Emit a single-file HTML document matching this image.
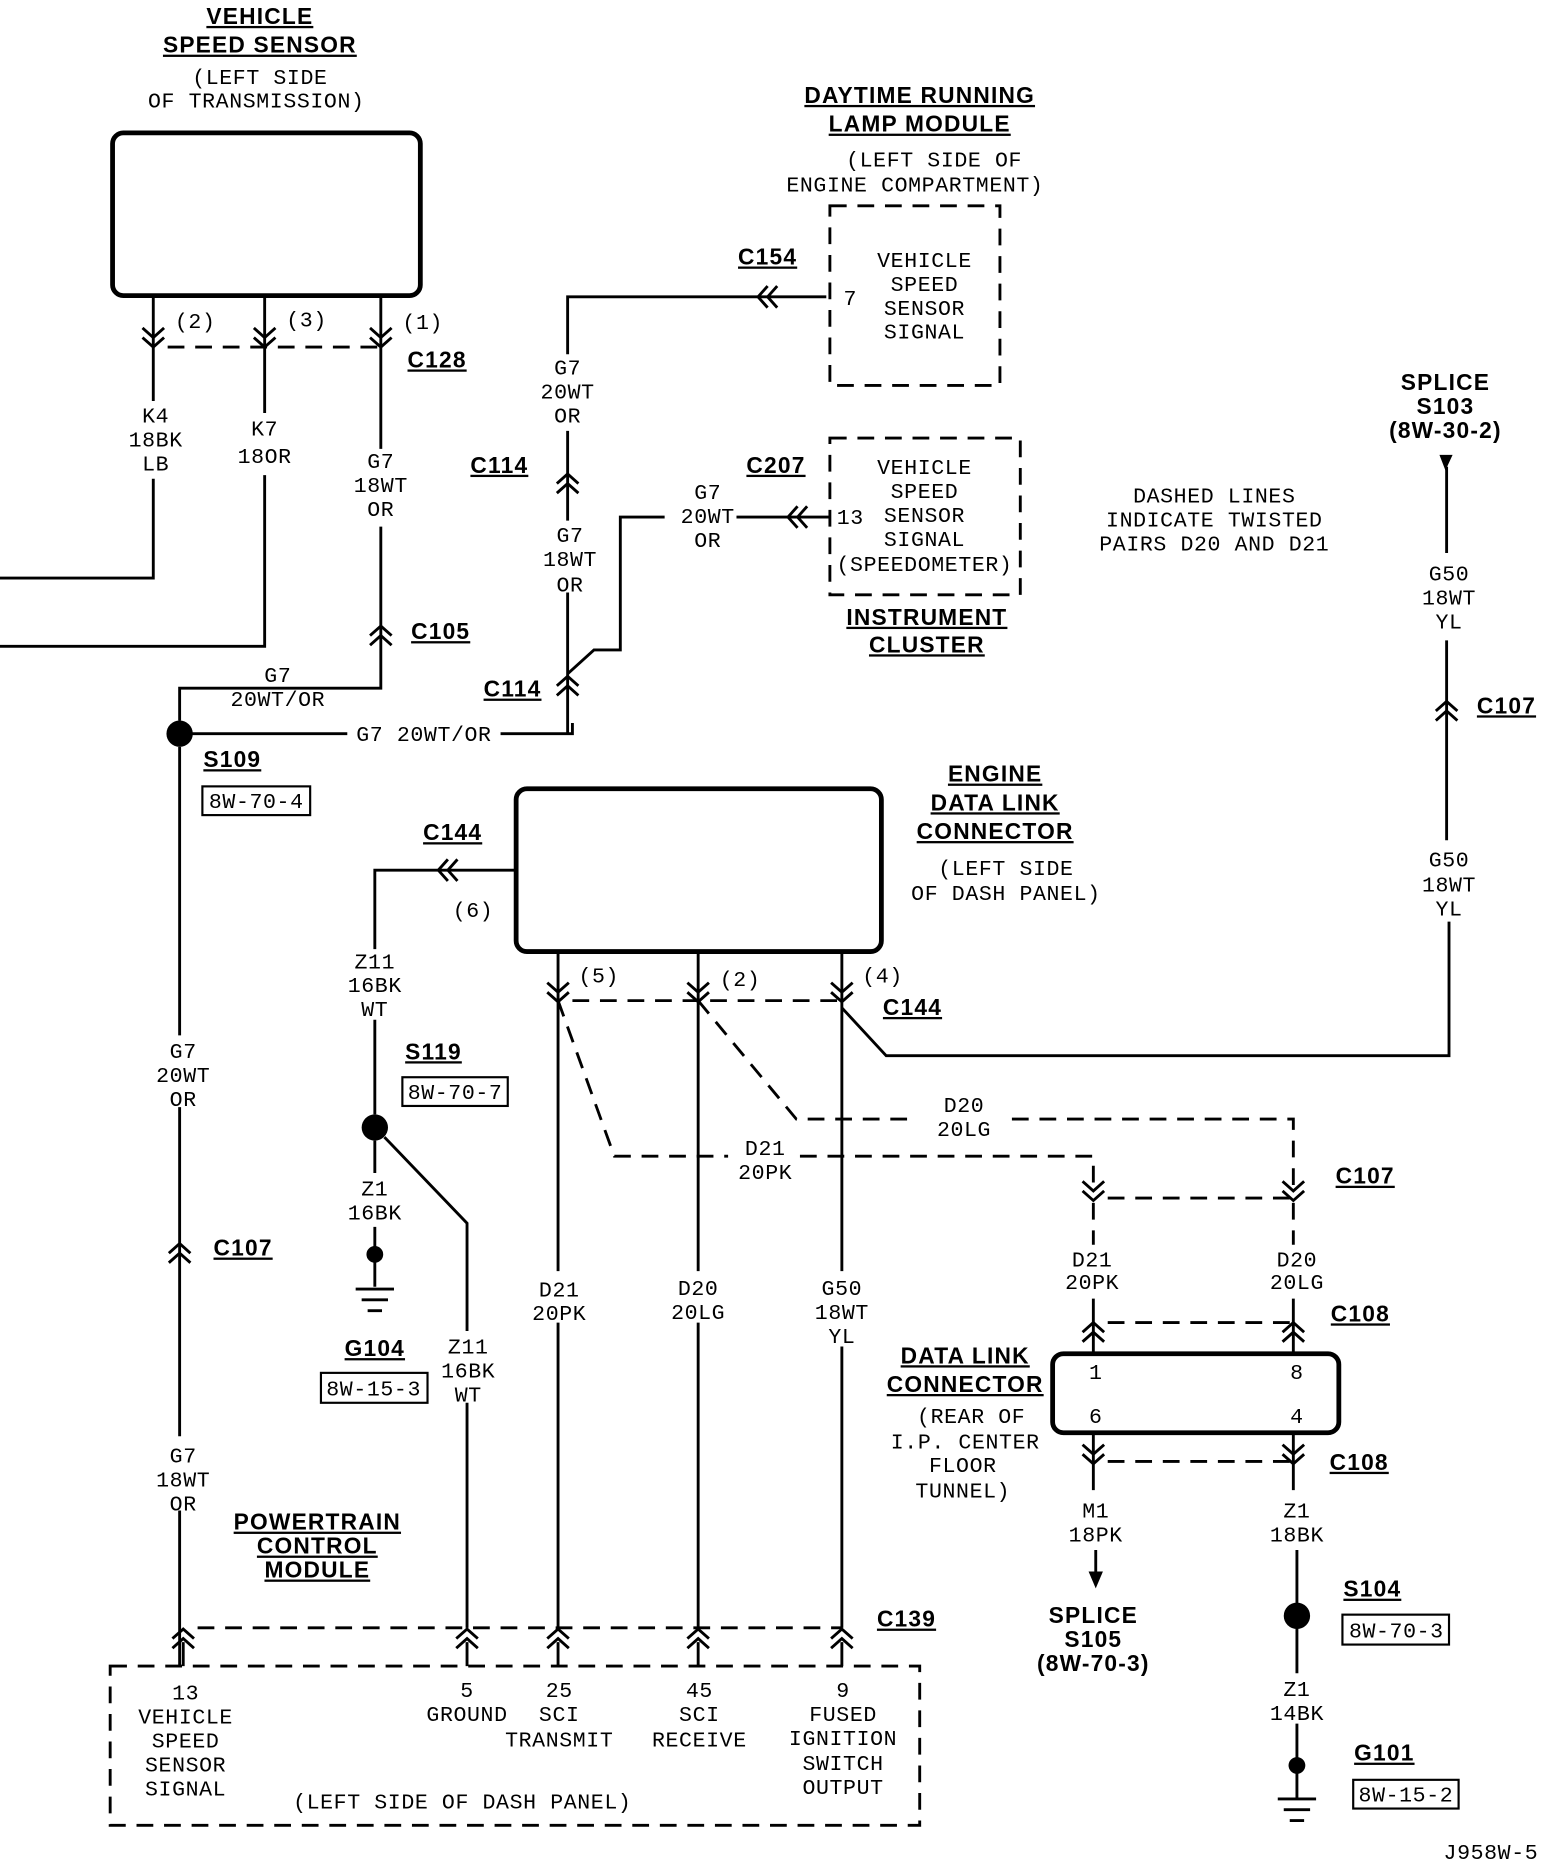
<!DOCTYPE html>
<html><head><meta charset="utf-8"><style>
html,body{margin:0;padding:0;background:#fff}
svg{display:block}
text{font-family:"Liberation Mono",monospace;font-size:18px;text-anchor:middle;fill:#000;letter-spacing:0.5px}
.b{font-family:"Liberation Sans",sans-serif;font-weight:bold;font-size:19px;text-decoration:underline;letter-spacing:1px}
.bn{font-family:"Liberation Sans",sans-serif;font-weight:bold;font-size:19px;letter-spacing:1px}
.w{stroke:#000;stroke-width:2.4;fill:none}
.d{stroke:#000;stroke-width:2.4;fill:none;stroke-dasharray:14 9}
.c{stroke:#000;stroke-width:2.4;fill:none}
</style></head><body>
<svg width="1552" height="1866" viewBox="0 0 1296 1559" preserveAspectRatio="none" xmlns="http://www.w3.org/2000/svg">
<defs>
<g id="dn"><path class="c" d="M-9,-9 L0,-1 L9,-9 M-9,-1 L0,7 L9,-1"/></g>
<g id="up"><path class="c" d="M-9,9 L0,1 L9,9 M-9,1 L0,-7 L9,1"/></g>
<g id="lt"><path class="c" d="M9,-9 L1,0 L9,9 M1,-9 L-7,0 L1,9"/></g>
</defs>

<text x="217" y="20" class="b">VEHICLE</text>
<text x="217" y="44" class="b">SPEED SENSOR</text>
<text x="217" y="70">(LEFT SIDE</text>
<text x="214" y="90">OF TRANSMISSION)</text>
<rect x="94" y="111" width="257" height="136" rx="9" class="w" style="stroke-width:4"/>
<path class="w" d="M128,247 V335 M221,247 V345 M318,247 V375"/>
<use href="#dn" x="128" y="283"/><use href="#dn" x="221" y="283"/><use href="#dn" x="318" y="283"/>
<text x="163" y="274">(2)</text><text x="256" y="273">(3)</text><text x="353" y="275">(1)</text>
<path class="d" d="M140,290 H318"/>
<text x="365" y="307" class="b">C128</text>
<text x="130" y="353">K4</text><text x="130" y="373">18BK</text><text x="130" y="393">LB</text>
<path class="w" d="M128,400 V483 H0"/>
<text x="221" y="364">K7</text><text x="221" y="387">18OR</text>
<path class="w" d="M221,397 V540 H0"/>
<text x="318" y="391">G7</text><text x="318" y="411">18WT</text><text x="318" y="431">OR</text>
<path class="w" d="M318,440 V575 H150 V602"/>
<use href="#up" x="318" y="530"/>
<text x="368" y="534" class="b">C105</text>
<text x="232" y="570">G7</text><text x="232" y="590">20WT/OR</text>
<circle cx="150" cy="613" r="11"/>
<path class="w" d="M160,613 H290 M418,613 H478 V604"/>
<text x="354" y="619">G7 20WT/OR</text>
<text x="194" y="641" class="b">S109</text>
<rect x="169" y="657" width="90" height="24" class="w" style="stroke-width:1.8"/>
<text x="214" y="675">8W-70-4</text>

<path class="w" d="M474,296 V248 H690"/>
<use href="#lt" x="640" y="248"/>
<text x="641" y="221" class="b">C154</text>
<text x="474" y="313">G7</text><text x="474" y="333">20WT</text><text x="474" y="353">OR</text>
<path class="w" d="M474,360 V435 M474,495 V613"/>
<use href="#up" x="474" y="403"/>
<text x="417" y="395" class="b">C114</text>
<text x="476" y="453">G7</text><text x="476" y="473">18WT</text><text x="476" y="494">OR</text>
<use href="#up" x="474" y="572"/>
<text x="428" y="582" class="b">C114</text>
<path class="w" d="M474,563 L496,543 H518 V432 H555 M615,432 H692"/>
<use href="#lt" x="665" y="432"/>
<text x="591" y="417">G7</text><text x="591" y="437">20WT</text><text x="591" y="457">OR</text>
<text x="648" y="395" class="b">C207</text>

<text x="768" y="86" class="b">DAYTIME RUNNING</text>
<text x="768" y="110" class="b">LAMP MODULE</text>
<text x="780" y="139">(LEFT SIDE OF</text>
<text x="764" y="160">ENGINE COMPARTMENT)</text>
<rect x="693" y="172" width="142" height="150" class="d"/>
<text x="710" y="255">7</text>
<text x="772" y="223">VEHICLE</text><text x="772" y="243">SPEED</text><text x="772" y="263">SENSOR</text><text x="772" y="283">SIGNAL</text>

<rect x="693" y="366" width="159" height="131" class="d"/>
<text x="710" y="438">13</text>
<text x="772" y="396">VEHICLE</text><text x="772" y="416">SPEED</text><text x="772" y="436">SENSOR</text><text x="772" y="456">SIGNAL</text><text x="772" y="477">(SPEEDOMETER)</text>
<text x="774" y="522" class="b">INSTRUMENT</text>
<text x="774" y="545" class="b">CLUSTER</text>

<text x="1014" y="420">DASHED LINES</text>
<text x="1014" y="440">INDICATE TWISTED</text>
<text x="1014" y="460">PAIRS D20 AND D21</text>

<text x="1207" y="326" class="bn">SPLICE</text>
<text x="1207" y="346" class="bn">S103</text>
<text x="1207" y="366" class="bn">(8W-30-2)</text>
<path d="M1202,380 H1213 L1207,393 Z"/>
<path class="w" d="M1208,390 V462 M1208,535 V702 M1210,770 V882 H740 L703,842"/>
<text x="1210" y="485">G50</text><text x="1210" y="505">18WT</text><text x="1210" y="525">YL</text>
<use href="#up" x="1208" y="593"/>
<text x="1258" y="596" class="b">C107</text>
<text x="1210" y="724">G50</text><text x="1210" y="745">18WT</text><text x="1210" y="765">YL</text>

<rect x="431" y="659" width="305" height="136" rx="9" class="w" style="stroke-width:4"/>
<text x="831" y="653" class="b">ENGINE</text>
<text x="831" y="677" class="b">DATA LINK</text>
<text x="831" y="701" class="b">CONNECTOR</text>
<text x="840" y="731">(LEFT SIDE</text>
<text x="840" y="752">OF DASH PANEL)</text>
<path class="w" d="M431,727 H313 V793 M313,852 V931"/>
<use href="#lt" x="373" y="727"/>
<text x="378" y="702" class="b">C144</text>
<text x="395" y="766">(6)</text>
<text x="313" y="809">Z11</text><text x="313" y="829">16BK</text><text x="313" y="849">WT</text>
<circle cx="313" cy="942" r="11"/>
<text x="362" y="885" class="b">S119</text>
<rect x="336" y="900" width="88" height="24" class="w" style="stroke-width:1.8"/>
<text x="380" y="918">8W-70-7</text>
<path class="w" d="M313,953 V980 M313,1025 V1075"/>
<text x="313" y="999">Z1</text><text x="313" y="1019">16BK</text>
<circle cx="313" cy="1048" r="7"/>
<path class="w" d="M297,1077 H329 M302,1086 H324 M307,1095 H319"/>
<text x="313" y="1133" class="b">G104</text>
<rect x="268" y="1147" width="89" height="25" class="w" style="stroke-width:1.8"/>
<text x="312" y="1166">8W-15-3</text>
<path class="w" d="M321,950 L390,1022 V1112 M390,1172 V1360"/>
<text x="391" y="1131">Z11</text><text x="391" y="1151">16BK</text><text x="391" y="1171">WT</text>

<path class="w" d="M466,795 V1062 M466,1105 V1360 M583,795 V1062 M583,1105 V1360 M703,795 V1062 M703,1125 V1360"/>
<use href="#dn" x="466" y="830"/><use href="#dn" x="583" y="830"/><use href="#dn" x="703" y="830"/>
<text x="500" y="821">(5)</text><text x="618" y="824">(2)</text><text x="737" y="821">(4)</text>
<text x="762" y="848" class="b">C144</text>
<path class="d" d="M478,836 H703"/>
<path class="d" d="M466,836 L513,966 H608 M668,966 H913 V995"/>
<path class="d" d="M583,836 L665,935 H765 M845,935 H1080 V995"/>
<text x="805" y="929">D20</text><text x="805" y="949">20LG</text>
<text x="639" y="965">D21</text><text x="639" y="985">20PK</text>
<text x="467" y="1083">D21</text><text x="467" y="1103">20PK</text>
<text x="583" y="1082">D20</text><text x="583" y="1102">20LG</text>
<text x="703" y="1082">G50</text><text x="703" y="1102">18WT</text><text x="703" y="1122">YL</text>

<use href="#dn" x="913" y="996"/><use href="#dn" x="1080" y="996"/>
<path class="d" d="M925,1001 H1080"/>
<text x="1140" y="989" class="b">C107</text>
<path class="d" d="M913,1005 V1040 M1080,1005 V1040"/>
<text x="912" y="1058">D21</text><text x="912" y="1077">20PK</text>
<text x="1083" y="1058">D20</text><text x="1083" y="1077">20LG</text>
<path class="w" d="M913,1085 V1131 M1080,1085 V1131"/>
<use href="#up" x="913" y="1112"/><use href="#up" x="1080" y="1112"/>
<path class="d" d="M925,1105 H1080"/>
<text x="1136" y="1104" class="b">C108</text>
<rect x="879" y="1131" width="239" height="66" rx="9" class="w" style="stroke-width:4"/>
<text x="915" y="1152">1</text><text x="1083" y="1152">8</text>
<text x="915" y="1189">6</text><text x="1083" y="1189">4</text>
<text x="806" y="1139" class="b">DATA LINK</text>
<text x="806" y="1163" class="b">CONNECTOR</text>
<text x="811" y="1189">(REAR OF</text><text x="806" y="1210">I.P. CENTER</text><text x="804" y="1230">FLOOR</text><text x="804" y="1251">TUNNEL)</text>
<path class="w" d="M913,1197 V1245 M1080,1197 V1245"/>
<use href="#dn" x="913" y="1216"/><use href="#dn" x="1080" y="1216"/>
<path class="d" d="M925,1221 H1080"/>
<text x="1135" y="1228" class="b">C108</text>
<text x="915" y="1268">M1</text><text x="915" y="1288">18PK</text>
<path class="w" d="M915,1295 V1315"/>
<path d="M909,1313 H921 L915,1327 Z"/>
<text x="913" y="1356" class="bn">SPLICE</text>
<text x="913" y="1376" class="bn">S105</text>
<text x="913" y="1396" class="bn">(8W-70-3)</text>
<text x="1083" y="1268">Z1</text><text x="1083" y="1288">18BK</text>
<path class="w" d="M1083,1295 V1340 M1083,1360 V1398 M1083,1440 V1502"/>
<circle cx="1083" cy="1350" r="11"/>
<text x="1146" y="1334" class="b">S104</text>
<rect x="1121" y="1349" width="89" height="25" class="w" style="stroke-width:1.8"/>
<text x="1166" y="1368">8W-70-3</text>
<text x="1083" y="1417">Z1</text><text x="1083" y="1437">14BK</text>
<circle cx="1083" cy="1475" r="7"/>
<path class="w" d="M1067,1503 H1099 M1072,1512 H1094 M1077,1521 H1089"/>
<text x="1156" y="1471" class="b">G101</text>
<rect x="1130" y="1487" width="88" height="24" class="w" style="stroke-width:1.8"/>
<text x="1174" y="1505">8W-15-2</text>

<path class="w" d="M150,624 V865 M150,925 V1200 M150,1262 V1392"/>
<text x="153" y="884">G7</text><text x="153" y="904">20WT</text><text x="153" y="924">OR</text>
<use href="#up" x="150" y="1046"/>
<text x="203" y="1049" class="b">C107</text>
<text x="153" y="1222">G7</text><text x="153" y="1242">18WT</text><text x="153" y="1262">OR</text>

<use href="#up" x="153" y="1368"/><use href="#up" x="390" y="1368"/><use href="#up" x="466" y="1368"/><use href="#up" x="583" y="1368"/><use href="#up" x="703" y="1368"/>
<path class="d" d="M165,1360 H703"/>
<path class="w" d="M390,1372 V1392 M466,1372 V1392 M583,1372 V1392 M703,1372 V1392 M153,1372 V1392"/>
<text x="757" y="1359" class="b">C139</text>
<rect x="92" y="1392" width="676" height="133" class="d"/>
<text x="265" y="1278" class="b">POWERTRAIN</text>
<text x="265" y="1298" class="b">CONTROL</text>
<text x="265" y="1318" class="b">MODULE</text>
<text x="155" y="1420">13</text><text x="155" y="1440">VEHICLE</text><text x="155" y="1460">SPEED</text><text x="155" y="1480">SENSOR</text><text x="155" y="1500">SIGNAL</text>
<text x="390" y="1418">5</text><text x="390" y="1438">GROUND</text>
<text x="467" y="1418">25</text><text x="467" y="1438">SCI</text><text x="467" y="1459">TRANSMIT</text>
<text x="584" y="1418">45</text><text x="584" y="1438">SCI</text><text x="584" y="1459">RECEIVE</text>
<text x="704" y="1418">9</text><text x="704" y="1438">FUSED</text><text x="704" y="1458">IGNITION</text><text x="704" y="1479">SWITCH</text><text x="704" y="1499">OUTPUT</text>
<text x="386" y="1511">(LEFT SIDE OF DASH PANEL)</text>
<text x="1245" y="1553">J958W-5</text>
</svg>
</body></html>
